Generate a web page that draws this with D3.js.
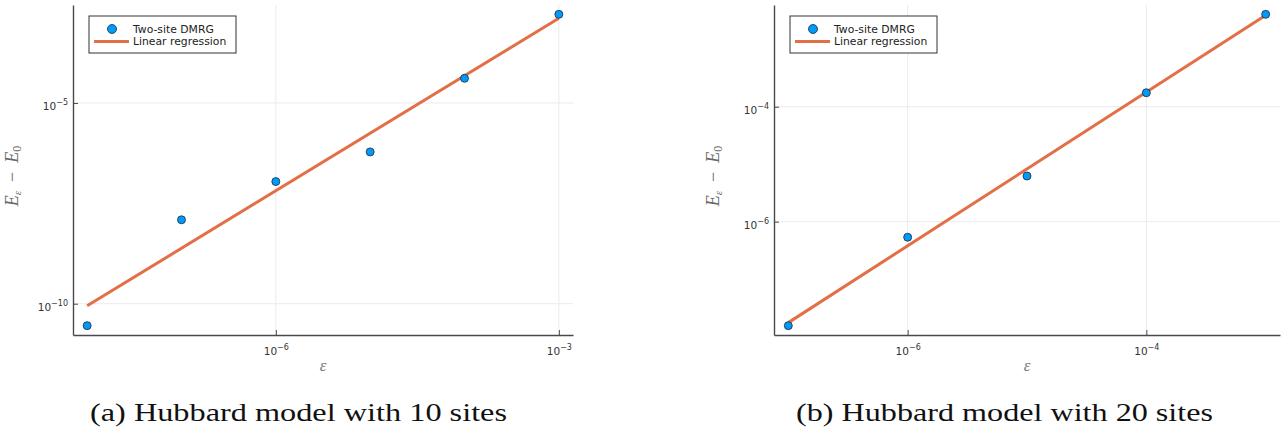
<!DOCTYPE html>
<html>
<head>
<meta charset="utf-8">
<script src="https://cdn.jsdelivr.net/npm/d3@7"></script>
<style>
  body { margin: 0; background: #fff; }
  svg { display: block; }
</style>
</head>
<body>
<div id="chart"></div>
<script>
// panel (a): Hubbard model, 10 sites
var epsA = [1e-8, 1e-7, 1e-6, 1e-5, 1e-4, 1e-3];
var errA = [2.84e-11, 1.23e-8, 1.10e-7, 6.04e-7, 4.11e-5, 1.61e-3];
var fitEpsA = [1e-8, 1e-3];
var fitErrA = [8.9e-11, 1.28e-3];
var xTicksA = [1e-6, 1e-3];
var xTickExpA = ["\u22126", "\u22123"];
var yTicksA = [1e-10, 1e-5];
var yTickExpA = ["\u221210", "\u22125"];

// panel (b): Hubbard model, 20 sites
var epsB = [1e-7, 1e-6, 1e-5, 1e-4, 1e-3];
var errB = [1.55e-8, 5.36e-7, 6.23e-6, 1.75e-4, 4.05e-3];
var fitEpsB = [1e-7, 1e-3];
var fitErrB = [1.75e-8, 3.89e-3];
var xTicksB = [1e-6, 1e-4];
var xTickExpB = ["\u22126", "\u22124"];
var yTicksB = [1e-6, 1e-4];
var yTickExpB = ["\u22126", "\u22124"];

var legendLabels = ["Two-site DMRG", "Linear regression"];
var captions = ["(a) Hubbard model with 10 sites", "(b) Hubbard model with 20 sites"];

var blue = "#009AFA", orange = "#E26F46", spine = "#4a4a4a";
var serif = "'Liberation Serif', 'Times New Roman', serif";

var svg = d3.select("#chart").append("svg")
	.attr("width", 1281)
	.attr("height", 432);

// log extent padded by 3% each side, the way Plots.jl does it
function paddedDomain(vals) {
	var lo = Math.log10(d3.min(vals)), hi = Math.log10(d3.max(vals));
	var pad = (hi - lo) * 0.03;
	return [Math.pow(10, lo - pad), Math.pow(10, hi + pad)];
}

function supLabel(sel, exps, anchor) {
	sel.each(function(d, i) {
		var t = d3.select(this).text(null).attr("text-anchor", anchor);
		t.append("tspan").text("10");
		t.append("tspan").attr("dy", -5).attr("font-size", 8).text(exps[i]);
	});
}

function drawPanel(p) {
	var g = svg.append("g");
	var x = d3.scaleLog().domain(paddedDomain(p.eps)).range([p.left, p.right]);
	var y = d3.scaleLog().domain(paddedDomain(p.err)).range([p.bottom, p.top]);

	// grid
	g.append("g").selectAll("line").data(p.xTicks).enter().append("line")
		.attr("x1", function(d) { return x(d); }).attr("x2", function(d) { return x(d); })
		.attr("y1", p.top).attr("y2", p.bottom)
		.attr("stroke", "#ebebeb").attr("stroke-width", 1);
	g.append("g").selectAll("line").data(p.yTicks).enter().append("line")
		.attr("y1", function(d) { return y(d); }).attr("y2", function(d) { return y(d); })
		.attr("x1", p.left).attr("x2", p.right)
		.attr("stroke", "#ebebeb").attr("stroke-width", 1);

	// regression line
	var line = d3.line()
		.x(function(d) { return x(d[0]); })
		.y(function(d) { return y(d[1]); });
	g.append("path")
		.datum(d3.zip(p.fitEps, p.fitErr))
		.attr("d", line)
		.attr("fill", "none")
		.attr("stroke", orange)
		.attr("stroke-width", 3);

	// points
	g.append("g").selectAll("circle")
		.data(d3.zip(p.eps, p.err))
		.enter().append("circle")
		.attr("cx", function(d) { return x(d[0]); })
		.attr("cy", function(d) { return y(d[1]); })
		.attr("r", 4)
		.attr("fill", blue)
		.attr("stroke", "#1f2a33")
		.attr("stroke-width", 0.8);

	// axes, ticks pointing inward
	var xa = g.append("g")
		.attr("transform", "translate(0," + p.bottom + ")")
		.call(d3.axisBottom(x).tickValues(p.xTicks).tickSizeInner(-5).tickSizeOuter(0));
	var ya = g.append("g")
		.attr("transform", "translate(" + p.left + ",0)")
		.call(d3.axisLeft(y).tickValues(p.yTicks).tickSizeInner(-5).tickSizeOuter(0));
	[xa, ya].forEach(function(a) {
		a.select(".domain").attr("stroke", spine).attr("stroke-width", 1.4);
		a.selectAll(".tick line").attr("stroke", spine).attr("stroke-width", 1);
		a.selectAll(".tick text")
			.attr("font-family", "DejaVu Sans, sans-serif")
			.attr("font-size", 10.5)
			.attr("fill", "#333");
	});
	xa.selectAll(".tick text").attr("y", 19.5).attr("dy", 0).call(supLabel, p.xTickExp, "middle");
	ya.selectAll(".tick text").attr("x", -5).attr("dy", 6.5).call(supLabel, p.yTickExp, "end");
	xa.attr("font-size", null);
	ya.attr("font-size", null);

	// axis labels
	g.append("text")
		.attr("x", (p.left + p.right) / 2)
		.attr("y", 371)
		.attr("text-anchor", "middle")
		.attr("font-family", serif)
		.attr("font-style", "italic")
		.attr("font-size", 17)
		.attr("fill", "#7a7a7a")
		.text("\u03b5");

	var yl = g.append("text")
		.attr("transform", "translate(" + (p.left - 55) + "," + ((p.top + p.bottom) / 2 + 6) + ") rotate(-90)")
		.attr("text-anchor", "middle")
		.attr("font-family", serif)
		.attr("font-size", 18)
		.attr("fill", "#666");
	yl.append("tspan").attr("font-style", "italic").text("E");
	yl.append("tspan").attr("font-style", "italic").attr("font-size", 11).attr("dy", 3).text("\u03b5");
	yl.append("tspan").attr("dy", -3).text("\u2002\u2212\u2002");
	yl.append("tspan").attr("font-style", "italic").text("E");
	yl.append("tspan").attr("font-size", 12).attr("dy", 3).text("0");

	// legend
	var lg = g.append("g").attr("transform", "translate(" + (p.left + 16) + "," + 16 + ")");
	lg.append("rect")
		.attr("width", 147).attr("height", 37)
		.attr("fill", "#fff")
		.attr("stroke", "#333")
		.attr("stroke-width", 1);
	lg.append("circle")
		.attr("cx", 23).attr("cy", 13).attr("r", 4.5)
		.attr("fill", blue).attr("stroke", "#1f2a33").attr("stroke-width", 0.8);
	lg.append("line")
		.attr("x1", 5).attr("x2", 40).attr("y1", 25.5).attr("y2", 25.5)
		.attr("stroke", orange).attr("stroke-width", 3);
	lg.selectAll("text.lab").data(legendLabels).enter().append("text")
		.attr("class", "lab")
		.attr("x", 44)
		.attr("y", function(d, i) { return 17 + i * 12.4; })
		.attr("font-family", "DejaVu Sans, sans-serif")
		.attr("font-size", 10.8)
		.attr("fill", "#222")
		.text(function(d) { return d; });

	// caption
	svg.append("text")
		.attr("x", p.capX)
		.attr("y", 421)
		.attr("font-family", serif)
		.attr("font-size", 26)
		.attr("fill", "#111")
		.attr("textLength", 417)
		.attr("lengthAdjust", "spacingAndGlyphs")
		.text(p.caption);
}

drawPanel({
	eps: epsA, err: errA, fitEps: fitEpsA, fitErr: fitErrA,
	xTicks: xTicksA, xTickExp: xTickExpA, yTicks: yTicksA, yTickExp: yTickExpA,
	left: 73, right: 573, top: 5, bottom: 335,
	caption: captions[0], capX: 90
});
drawPanel({
	eps: epsB, err: errB, fitEps: fitEpsB, fitErr: fitErrB,
	xTicks: xTicksB, xTickExp: xTickExpB, yTicks: yTicksB, yTickExp: yTickExpB,
	left: 774, right: 1280, top: 5, bottom: 335,
	caption: captions[1], capX: 796
});
</script>
</body>
</html>
